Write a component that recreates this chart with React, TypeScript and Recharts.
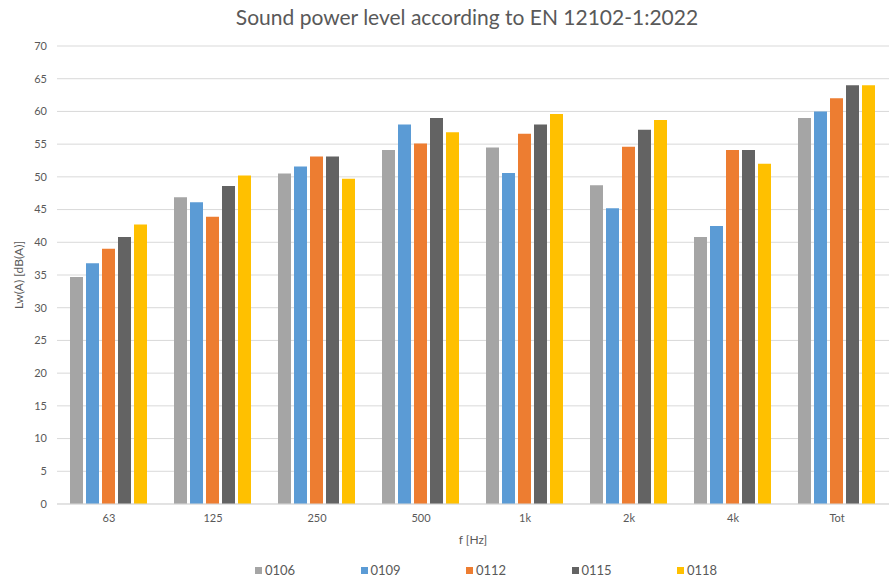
import React from "react";
import {
  BarChart,
  Bar,
  XAxis,
  YAxis,
  CartesianGrid,
  Legend,
} from "recharts";

const bands = ["63", "125", "250", "500", "1k", "2k", "4k", "Tot"];
const s0106 = [34.7, 46.9, 50.5, 54.1, 54.5, 48.7, 40.8, 59.0];
const s0109 = [36.8, 46.1, 51.6, 58.0, 50.6, 45.2, 42.5, 60.0];
const s0112 = [39.0, 43.9, 53.1, 55.1, 56.6, 54.6, 54.1, 62.0];
const s0115 = [40.8, 48.6, 53.1, 59.0, 58.0, 57.2, 54.1, 64.0];
const s0118 = [42.7, 50.2, 49.7, 56.8, 59.6, 58.7, 52.0, 64.0];
const yTicks = [0, 5, 10, 15, 20, 25, 30, 35, 40, 45, 50, 55, 60, 65, 70];

const series = [
  { key: "0106", values: s0106, color: "#A5A5A5" },
  { key: "0109", values: s0109, color: "#5B9BD5" },
  { key: "0112", values: s0112, color: "#ED7D31" },
  { key: "0115", values: s0115, color: "#636363" },
  { key: "0118", values: s0118, color: "#FFC000" },
];

const data = bands.map((name, i) => {
  const row: Record<string, string | number> = { name };
  series.forEach((s) => (row[s.key] = s.values[i]));
  return row;
});

const FONT = "Lato, 'Open Sans', sans-serif";
const TEXT = "#595959";

// Excel spaces legend entries evenly, starting a little right of centre
function LegendRow() {
  return (
    <div style={{ display: "flex", height: 16, alignItems: "center", marginLeft: 255 }}>
      {series.map((s) => (
        <div
          key={s.key}
          style={{ display: "flex", alignItems: "center", width: 105.5, fontSize: 13, color: TEXT, fontFamily: FONT }}
        >
          <span style={{ width: 7, height: 7, background: s.color, marginRight: 3, display: "inline-block" }} />
          {s.key}
        </div>
      ))}
    </div>
  );
}

export default function App() {
  return (
    <div style={{ position: "absolute", left: 0, top: 0, width: 890, height: 578, background: "#fff" }}>
      <div
        style={{
          position: "absolute",
          top: 4,
          left: 22,
          width: 890,
          textAlign: "center",
          fontFamily: FONT,
          fontSize: 21,
          color: TEXT,
        }}
      >
        Sound power level according to EN 12102-1:2022
      </div>
      <BarChart
        width={890}
        height={578}
        data={data}
        margin={{ top: 46, right: 1, bottom: 0, left: 0 }}
        barCategoryGap="12.5%"
        barGap={3}
      >
        <CartesianGrid vertical={false} stroke="#D9D9D9" />
        <XAxis
          dataKey="name"
          height={58}
          axisLine={{ stroke: "#D9D9D9" }}
          tickLine={false}
          tick={{ fontSize: 11, fill: TEXT, fontFamily: FONT }}
          tickMargin={4}
          label={{
            value: "f [Hz]",
            position: "insideBottom",
            offset: 18,
            style: { fontSize: 12, fill: TEXT, fontFamily: FONT },
          }}
        />
        <YAxis
          width={57}
          domain={[0, 70]}
          ticks={yTicks}
          interval={0}
          axisLine={false}
          tickLine={false}
          tickMargin={4}
          tick={{ fontSize: 11, fill: TEXT, fontFamily: FONT }}
          label={{
            value: "Lw(A) [dB(A)]",
            angle: -90,
            position: "insideLeft",
            offset: 19,
            style: { fontSize: 12, fill: TEXT, fontFamily: FONT, textAnchor: "middle" },
          }}
        />
        <Legend verticalAlign="bottom" content={() => <LegendRow />} />
        {series.map((s) => (
          <Bar key={s.key} dataKey={s.key} fill={s.color} isAnimationActive={false} />
        ))}
      </BarChart>
    </div>
  );
}
